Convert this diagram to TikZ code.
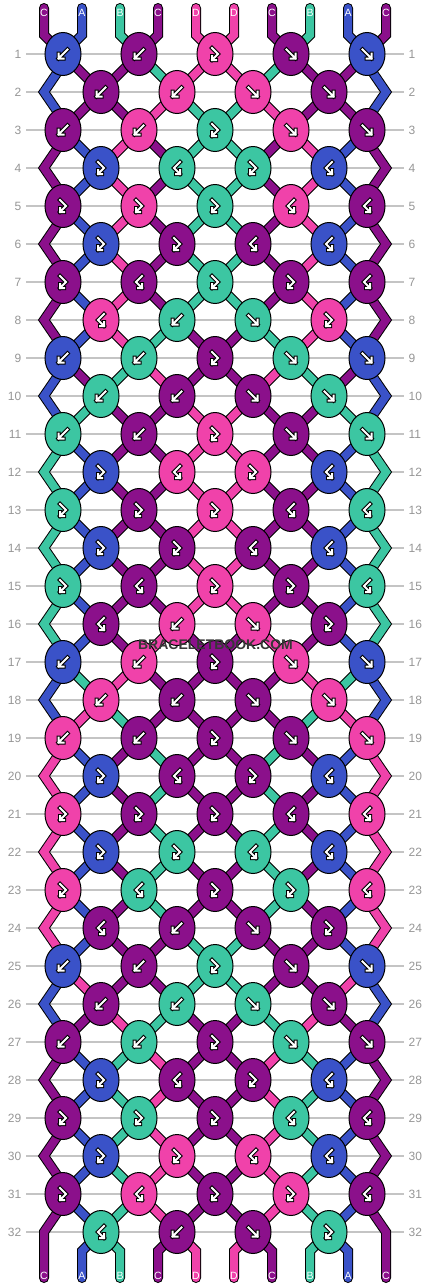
\documentclass[tikz,border=0pt]{standalone}
\usepackage{fontspec}
\setmainfont{Liberation Sans}
\usetikzlibrary{shapes.geometric}
\definecolor{cC}{RGB}{139,16,139}
\definecolor{cA}{RGB}{58,82,200}
\definecolor{cB}{RGB}{60,198,162}
\definecolor{cD}{RGB}{240,66,170}
\definecolor{rowline}{RGB}{196,196,196}
\definecolor{rownum}{RGB}{150,150,150}
\definecolor{wmcol}{RGB}{55,55,55}
\newcommand\getS[1]{\csname st#1\endcsname}
\newcommand\setS[2]{\expandafter\xdef\csname st#1\endcsname{#2}}
\newcommand\initS{\setS{1}{cC}\setS{2}{cA}\setS{3}{cB}\setS{4}{cC}\setS{5}{cD}%
  \setS{6}{cD}\setS{7}{cC}\setS{8}{cB}\setS{9}{cA}\setS{10}{cC}}
\expandafter\def\csname ty1\endcsname{B,B,X,F,F}
\expandafter\def\csname ty2\endcsname{B,B,F,F}
\expandafter\def\csname ty3\endcsname{B,B,X,F,F}
\expandafter\def\csname ty4\endcsname{X,Y,X,Y}
\expandafter\def\csname ty5\endcsname{X,X,X,Y,Y}
\expandafter\def\csname ty6\endcsname{X,X,Y,Y}
\expandafter\def\csname ty7\endcsname{X,Y,X,X,Y}
\expandafter\def\csname ty8\endcsname{Y,B,F,X}
\tikzset{
  thr/.style={draw=black, line width=10pt, line join=miter, postaction={draw=#1, line width=8pt}},
  thrend/.style={thr=#1, line cap=round},
  knot/.style={ellipse, draw=black, line width=1pt, fill=#1, minimum width=36pt, minimum height=43pt, inner sep=0pt},
  ico/.style={draw=black, line width=4pt, line cap=rect, line join=miter, postaction={draw=white, line width=2pt}},
  lbl/.style={text=white, font=\fontsize{10.5}{10.5}\selectfont, inner sep=0pt},
  rnum/.style={text=rownum, font=\fontsize{12}{12}\selectfont, inner sep=0pt},
  wmk/.style={font=\fontsize{14}{14}\selectfont\bfseries, inner sep=0pt}
}
\begin{document}
\begin{tikzpicture}[x=1pt,y=-1pt]
\useasboundingbox (0,0) rectangle (430,1288);
\fill[white] (0,0) rectangle (430,1288);
% row lines and numbers
\foreach \rr in {1,...,32}{%
  \pgfmathtruncatemacro\yy{16+38*\rr}%
  \draw[rowline, line width=1.2pt] (26,\yy) -- (404,\yy);
  \node[rnum, anchor=east] (ln\rr) at (21.5,\yy) {\rr};
  \node[rnum, anchor=west] (rn\rr) at (408.5,\yy) {\rr};
}
% threads (simulation)
\initS
\foreach \rr in {1,...,32}{%
  \pgfmathtruncatemacro\p{mod(\rr-1,8)+1}%
  \pgfmathtruncatemacro\od{mod(\rr,2)}%
  \pgfmathtruncatemacro\yy{16+38*\rr}%
  \edef\tylist{\csname ty\p\endcsname}%
  \foreach \tp [count=\k] in \tylist {%
    \pgfmathtruncatemacro\ii{2*\k-\od}%
    \pgfmathtruncatemacro\jj{\ii+1}%
    \pgfmathtruncatemacro\xx{25+38*\ii}%
    \edef\cL{\getS{\ii}}\edef\cR{\getS{\jj}}%
    \ifnum\rr=1
      \draw[thrend=\cL] (\xx-19,8) -- (\xx-19,35) -- (\xx,\yy);
      \draw[thrend=\cR] (\xx+19,8) -- (\xx+19,35) -- (\xx,\yy);
    \else
      \ifnum\ii>1 \draw[thr=\cL] (\xx-38,\yy-38) -- (\xx,\yy);\fi
      \ifnum\jj<10 \draw[thr=\cR] (\xx+38,\yy-38) -- (\xx,\yy);\fi
    \fi
    \edef\kc{\cR}%
    \if F\tp \edef\kc{\cL}\fi
    \if X\tp \edef\kc{\cL}\fi
    \expandafter\xdef\csname kc-\rr-\k\endcsname{\kc}%
    \if F\tp \setS{\ii}{\cR}\setS{\jj}{\cL}\fi
    \if B\tp \setS{\ii}{\cR}\setS{\jj}{\cL}\fi
  }%
  \ifodd\rr\relax\else
    \edef\eL{\getS{1}}\edef\eR{\getS{10}}%
    \ifnum\rr<32
      \draw[thr=\eL] (70,\yy-38) -- (44,\yy) -- (70,\yy+38);
      \draw[thr=\eR] (360,\yy-38) -- (386,\yy) -- (360,\yy+38);
    \else
      \draw[thrend=\eL] (70,\yy-38) -- (44,\yy) -- (44,1278);
      \draw[thrend=\eR] (360,\yy-38) -- (386,\yy) -- (386,1278);
    \fi
  \fi
}
% bottom thread ends
\foreach \k in {1,...,4}{%
  \pgfmathtruncatemacro\ii{2*\k}%
  \pgfmathtruncatemacro\jj{\ii+1}%
  \pgfmathtruncatemacro\xx{25+38*\ii}%
  \edef\cL{\getS{\ii}}\edef\cR{\getS{\jj}}%
  \draw[thrend=\cL] (\xx,1232) -- (\xx-19,1251) -- (\xx-19,1278);
  \draw[thrend=\cR] (\xx,1232) -- (\xx+19,1251) -- (\xx+19,1278);
}
% knots
\foreach \rr in {1,...,32}{%
  \pgfmathtruncatemacro\p{mod(\rr-1,8)+1}%
  \pgfmathtruncatemacro\od{mod(\rr,2)}%
  \pgfmathtruncatemacro\yy{16+38*\rr}%
  \edef\tylist{\csname ty\p\endcsname}%
  \foreach \tp [count=\k] in \tylist {%
    \pgfmathtruncatemacro\xx{25+38*(2*\k-\od)}%
    \edef\kc{\csname kc-\rr-\k\endcsname}%
    \node[knot=\kc] (k\rr-\k) at (\xx,\yy) {};
    \begin{scope}[shift={(\xx,\yy)}]
      \if F\tp \draw[ico] (-4.5,-4.5)--(4.5,4.5) (4.5,-0.5)--(4.5,4.5)--(-0.5,4.5);\fi
      \if B\tp \draw[ico] (4.5,-4.5)--(-4.5,4.5) (-4.5,-0.5)--(-4.5,4.5)--(0.5,4.5);\fi
      \if X\tp \draw[ico] (-3,-6)--(3,0)--(-3,6) (-3,2)--(-3,6)--(1,6);\fi
      \if Y\tp \draw[ico] (3,-6)--(-3,0)--(3,6) (3,2)--(3,6)--(-1,6);\fi
    \end{scope}
  }%
}
% string labels
\foreach \lab [count=\n] in {C,A,B,C,D,D,C,B,A,C}{%
  \node[lbl] (top\n) at (6+38*\n,12.5) {\lab};
  \node[lbl] (bot\n) at (6+38*\n,1276) {\lab};
}
% watermark
\node[wmk, text=wmcol] (wm) at (215.5,645) {BRACELETBOOK.COM};
\end{tikzpicture}
\end{document}
